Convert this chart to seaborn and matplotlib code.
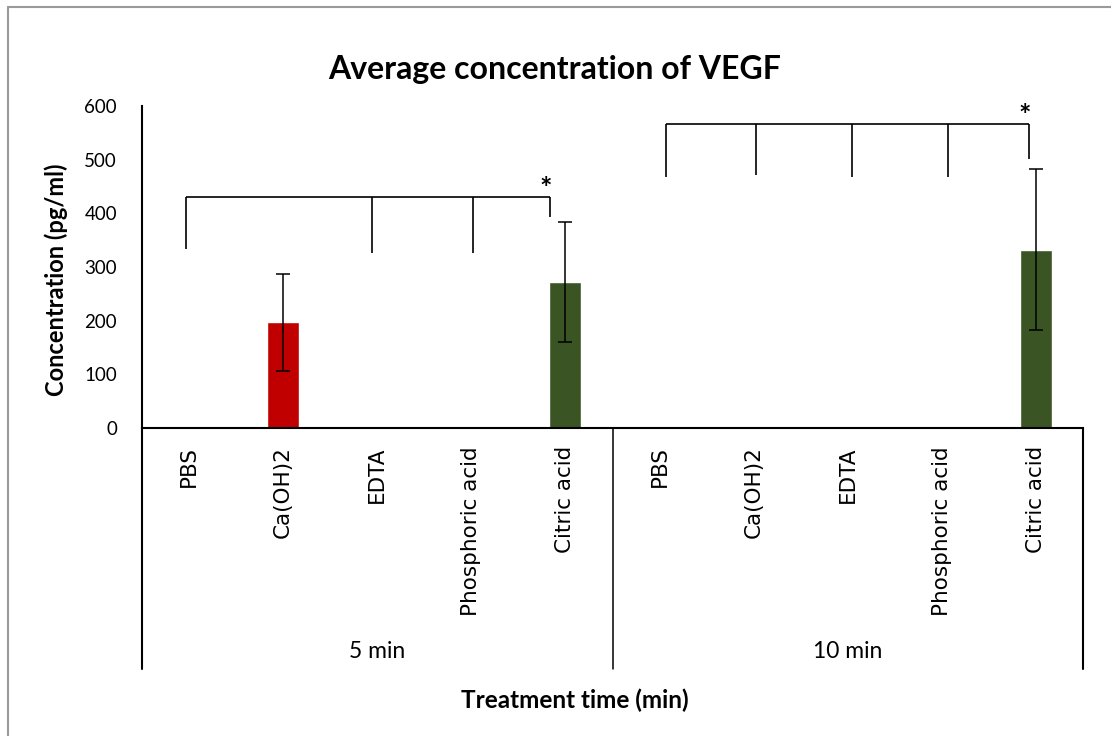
import numpy as np
import pandas as pd
import matplotlib
matplotlib.use("Agg")
import matplotlib.pyplot as plt
import matplotlib.transforms as mtransforms
from matplotlib.lines import Line2D
import seaborn as sns

# ---- data ----
treatments = ["PBS", "Ca(OH)2", "EDTA", "Phosphoric acid", "Citric acid"]
times = ["5 min", "10 min"]
mean_5min = [np.nan, 197, np.nan, np.nan, 272]
mean_10min = [np.nan, np.nan, np.nan, np.nan, 332]
sd_5min = [np.nan, 90, np.nan, np.nan, 111]
sd_10min = [np.nan, np.nan, np.nan, np.nan, 150]
y_ticks = [0, 100, 200, 300, 400, 500, 600]

# significance brackets: bar level, drop positions (category units) and drop ends (pg/ml)
br5_level = 431
br5_x = [-0.03, 1.94, 3.02, 3.84]
br5_bottom = [334, 327, 327, 393]
br10_level = 567
br10_x = [5.07, 6.02, 7.05, 8.07, 8.93]
br10_bottom = [468, 472, 468, 468, 502]

palette = {"PBS": "#7F7F7F", "Ca(OH)2": "#C00000", "EDTA": "#4472C4",
           "Phosphoric acid": "#ED7D31", "Citric acid": "#3A5523"}

# ---- build table ----
rows = []
for t, means, sds in zip(times, [mean_5min, mean_10min], [sd_5min, sd_10min]):
    for tr, m, s in zip(treatments, means, sds):
        rows.append({"key": f"{t} | {tr}", "time": t, "treatment": tr,
                     "value": m, "sd": s})
df = pd.DataFrame(rows)
order = list(df["key"])
df_bars = df.dropna(subset=["value"])

sns.set_theme(style="white")
plt.rcParams["font.family"] = ["Lato", "DejaVu Sans"]
plt.rcParams["text.color"] = "black"
plt.rcParams["xtick.color"] = "black"
plt.rcParams["ytick.color"] = "black"
plt.rcParams["axes.labelcolor"] = "black"

W, H = 1111, 736
fig = plt.figure(figsize=(W / 100, H / 100), dpi=100)
ax = fig.add_axes([142 / W, 1 - 428 / H, (1083 - 142) / W, (428 - 106) / H])

sns.barplot(data=df_bars, x="key", y="value", hue="treatment", order=order,
            hue_order=treatments, palette=palette, dodge=False, width=0.34,
            errorbar=None, legend=False, ax=ax, saturation=1)

pos = np.array([order.index(k) for k in df_bars["key"]])
ax.errorbar(pos, df_bars["value"], yerr=df_bars["sd"], fmt="none",
            ecolor="black", elinewidth=1.1, capsize=5, capthick=1.1, zorder=5)

ax.set_xlim(-0.5, len(order) - 0.5)
ax.set_ylim(0, 600)
ax.set_yticks(y_ticks)
ax.set_yticklabels([str(v) for v in y_ticks])
ax.set_xticks(range(len(order)))
ax.set_xticklabels(list(df["treatment"]), rotation=90, va="top")
ax.tick_params(axis="x", length=0, pad=13, labelsize=15.5,
               labelfontfamily="DejaVu Sans", labelcolor="black")
ax.tick_params(axis="y", length=0, pad=18, labelsize=13.5, labelcolor="black")
ax.set_xlabel("")
ax.set_ylabel("")

for s in ["top", "right"]:
    ax.spines[s].set_visible(False)
for s in ["left", "bottom"]:
    ax.spines[s].set_color("black")
    ax.spines[s].set_linewidth(1.5)

# group boxes below the axis
trans = mtransforms.blended_transform_factory(ax.transData, ax.transAxes)
box_bottom = -(669 - 428) / (428 - 106)
for xb, lw in zip([-0.5, 4.5, 9.5], [1.5, 1.1, 1.5]):
    ax.add_line(Line2D([xb, xb], [0, box_bottom], transform=trans,
                       color="black", lw=lw, clip_on=False))
label_y = -(652 - 428) / (428 - 106)
for i, t in enumerate(times):
    ax.text(2 + 5 * i, label_y, t, transform=trans, ha="center", va="center",
            fontsize=16.5)

# significance brackets
def bracket(level, xs, bottoms):
    ax.plot([xs[0], xs[-1]], [level, level], color="black", lw=1.2,
            clip_on=False, solid_capstyle="butt")
    for x, b in zip(xs, bottoms):
        ax.plot([x, x], [level, b], color="black", lw=1.2, clip_on=False,
                solid_capstyle="butt")
    ax.text(xs[-1] - 0.05, level - 10, "*", ha="center", va="bottom",
            fontsize=21, fontweight="bold")

bracket(br5_level, br5_x, br5_bottom)
bracket(br10_level, br10_x, br10_bottom)

# titles
fig.text(555 / W, 1 - 70 / H, "Average concentration of VEGF", ha="center",
         va="center", fontsize=23, fontweight="bold")
fig.text(56 / W, 1 - 280 / H, "Concentration (pg/ml)", ha="center",
         va="center", rotation=90, fontsize=17, fontweight="bold")
fig.text(575 / W, 1 - 700 / H, "Treatment time (min)", ha="center",
         va="center", fontsize=17.5, fontweight="bold")

# frame
fig.add_artist(Line2D([8 / W, 8 / W], [0, 1 - 7 / H], color="#9A9A9A", lw=1.5))
fig.add_artist(Line2D([8 / W, 1], [1 - 7 / H, 1 - 7 / H], color="#9A9A9A", lw=1.5))

fig.savefig("out.png", dpi=100)
